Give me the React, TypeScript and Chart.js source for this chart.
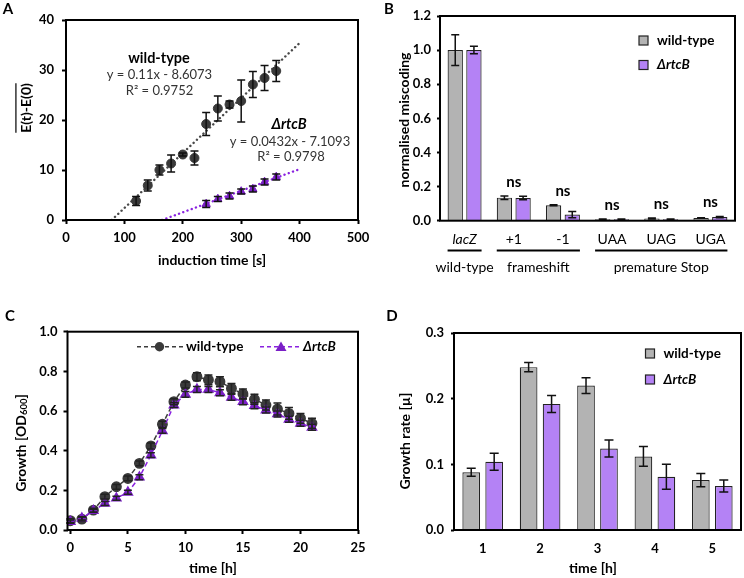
import React, { useEffect, useRef } from "react";
import { Chart, registerables } from "chart.js";

Chart.register(...registerables);

const W = 744;
const H = 578;
const FONT = "Lato, 'Open Sans', sans-serif";

// ---------- Panel A ----------
const aWildTypeTime = [120, 140, 160, 180, 200, 220, 240, 260, 280, 300, 320, 340, 360];
const aWildTypeValue = [3.8, 6.9, 10.0, 11.3, 13.1, 12.4, 19.2, 22.3, 23.1, 23.8, 27.1, 28.4, 29.8];
const aWildTypeError = [0.9, 1.1, 1.0, 1.7, 0.3, 1.4, 2.3, 2.5, 0.7, 4.2, 2.6, 2.5, 2.1];
const aRtcBTime = [240, 260, 280, 300, 320, 340, 360];
const aRtcBValue = [3.2, 4.2, 4.8, 5.7, 6.2, 7.6, 8.6];
const aRtcBError = [0.7, 0.5, 0.6, 0.5, 0.6, 0.6, 0.6];
const aWildTypeFit = [0.11, -8.6073]; // slope, intercept
const aRtcBFit = [0.0432, -7.1093];
const aWildTypeR2 = "0.9752";
const aRtcBR2 = "0.9798";
const aFitEnd = 400;
const aXTicks = [0, 100, 200, 300, 400, 500];
const aYTicks = [0, 10, 20, 30, 40];

// ---------- Panel B ----------
const bCategories = ["lacZ", "+1", "-1", "UAA", "UAG", "UGA"];
const bCategoryItalic = [true, false, false, false, false, false];
const bWildType = [1.0, 0.135, 0.091, 0.008, 0.013, 0.016];
const bWildTypeError = [0.09, 0.01, 0.003, 0.002, 0.003, 0.002];
const bRtcB = [1.0, 0.133, 0.036, 0.008, 0.008, 0.021];
const bRtcBError = [0.022, 0.01, 0.018, 0.002, 0.002, 0.004];
const bSignificance = ["", "ns", "ns", "ns", "ns", "ns"];
const bGroupLabels = ["wild-type", "frameshift", "premature Stop"];
const bGroupStart = [0, 1, 3];
const bGroupEnd = [0, 2, 5];
const bYTicks = [0, 0.2, 0.4, 0.6, 0.8, 1.0, 1.2];

// ---------- Panel C ----------
const cTime = [0, 1, 2, 3, 4, 5, 6, 7, 8, 9, 10, 11, 12, 13, 14, 15, 16, 17, 18, 19, 20, 21];
const cWildType = [0.047, 0.055, 0.1, 0.168, 0.218, 0.26, 0.336, 0.424, 0.533, 0.647, 0.731, 0.773, 0.757, 0.748, 0.714, 0.686, 0.659, 0.63, 0.61, 0.588, 0.563, 0.538];
const cWildTypeError = [0.01, 0.01, 0.01, 0.012, 0.012, 0.012, 0.012, 0.015, 0.015, 0.015, 0.015, 0.02, 0.025, 0.025, 0.025, 0.025, 0.025, 0.025, 0.03, 0.03, 0.025, 0.025];
const cRtcB = [0.042, 0.059, 0.097, 0.134, 0.16, 0.19, 0.266, 0.378, 0.5, 0.63, 0.684, 0.709, 0.709, 0.692, 0.669, 0.647, 0.627, 0.605, 0.585, 0.558, 0.538, 0.518];
const cRtcBError = [0.008, 0.008, 0.008, 0.01, 0.01, 0.01, 0.012, 0.012, 0.012, 0.012, 0.015, 0.015, 0.015, 0.015, 0.015, 0.015, 0.015, 0.015, 0.015, 0.015, 0.015, 0.015];
const cXTicks = [0, 5, 10, 15, 20, 25];
const cYTicks = [0, 0.2, 0.4, 0.6, 0.8, 1.0];

// ---------- Panel D ----------
const dCategories = ["1", "2", "3", "4", "5"];
const dWildType = [0.088, 0.248, 0.22, 0.112, 0.076];
const dWildTypeError = [0.006, 0.007, 0.012, 0.015, 0.01];
const dRtcB = [0.104, 0.192, 0.124, 0.081, 0.067];
const dRtcBError = [0.013, 0.013, 0.013, 0.019, 0.009];
const dYTicks = [0, 0.1, 0.2, 0.3];

// ---------- colours ----------
const GRAY_BAR = "#b3b3b3";
const PURPLE_BAR = "#b482f5";
const DARK = "#3a3a3a";
const PURPLE = "#7a1fc6";

const TICK_SIZE = 13;
const TITLE_SIZE = 14;

Chart.defaults.font.family = FONT;
Chart.defaults.color = "#000";

// ---------- helpers ----------
function txt(ctx: CanvasRenderingContext2D, s: string, x: number, y: number, size: number, weight = "normal", style = "normal", align: CanvasTextAlign = "center", color = "#000") {
  ctx.save();
  ctx.font = `${style} ${weight} ${size}px ${FONT}`;
  ctx.fillStyle = color;
  ctx.textAlign = align;
  ctx.textBaseline = "middle";
  ctx.fillText(s, x, y);
  ctx.restore();
}

type Part = { t: string; size: number; weight?: string; dy?: number };
function vrich(ctx: CanvasRenderingContext2D, parts: Part[], x: number, y: number, overline = false) {
  ctx.save();
  ctx.translate(x, y);
  ctx.rotate(-Math.PI / 2);
  ctx.textBaseline = "middle";
  ctx.textAlign = "left";
  ctx.fillStyle = "#000";
  let total = 0;
  const widths = parts.map((p) => {
    ctx.font = `normal ${p.weight || "bold"} ${p.size}px ${FONT}`;
    const w = ctx.measureText(p.t).width;
    total += w;
    return w;
  });
  let cx = -total / 2;
  parts.forEach((p, i) => {
    ctx.font = `normal ${p.weight || "bold"} ${p.size}px ${FONT}`;
    ctx.fillText(p.t, cx, p.dy || 0);
    cx += widths[i];
  });
  if (overline) {
    ctx.strokeStyle = "#000";
    ctx.lineWidth = 1.2;
    ctx.beginPath();
    ctx.moveTo(-total / 2, -parts[0].size * 0.72);
    ctx.lineTo(total / 2, -parts[0].size * 0.72);
    ctx.stroke();
  }
  ctx.restore();
}

function layoutFor(l: number, t: number, r: number, b: number, yW: number, xH: number) {
  return { padding: { left: l - yW, top: t, right: W - r, bottom: H - b - xH } };
}

const errorBarPlugin = {
  id: "errorBars",
  afterDatasetsDraw(chart: any) {
    const ctx = chart.ctx;
    chart.data.datasets.forEach((ds: any, i: number) => {
      if (!ds.errors) return;
      const meta = chart.getDatasetMeta(i);
      const ys = chart.scales[meta.yAxisID];
      ctx.save();
      ctx.strokeStyle = ds.errorColor || "#000";
      ctx.lineWidth = ds.errorWidth || 1.5;
      const cap = ds.errorCap || 4;
      meta.data.forEach((el: any, j: number) => {
        const raw = ds.data[j];
        const v = typeof raw === "number" ? raw : raw.y;
        const e = ds.errors[j];
        if (!e) return;
        const x = el.x;
        const y1 = ys.getPixelForValue(v + e);
        const y2 = ys.getPixelForValue(v - e);
        ctx.beginPath();
        ctx.moveTo(x, y1);
        ctx.lineTo(x, y2);
        ctx.moveTo(x - cap, y1);
        ctx.lineTo(x + cap, y1);
        ctx.moveTo(x - cap, y2);
        ctx.lineTo(x + cap, y2);
        ctx.stroke();
      });
      ctx.restore();
    });
  },
};

const framePlugin = {
  id: "frame",
  afterDraw(chart: any) {
    const { left, top, right, bottom } = chart.chartArea;
    const ctx = chart.ctx;
    ctx.save();
    ctx.strokeStyle = "#000";
    ctx.lineWidth = 2;
    ctx.strokeRect(left, top, right - left, bottom - top);
    ctx.restore();
  },
};

function yAxis(ticks: number[], decimals: number, yW: number, pad: number, tickLen: number) {
  return {
    type: "linear",
    min: ticks[0],
    max: ticks[ticks.length - 1],
    afterFit: (s: any) => {
      s.width = yW;
    },
    afterBuildTicks: (s: any) => {
      s.ticks = ticks.map((v) => ({ value: v }));
    },
    border: { display: false },
    grid: { drawOnChartArea: false, drawTicks: true, tickLength: tickLen, tickColor: "#000", tickWidth: 2, color: "#000" },
    ticks: {
      font: { size: TICK_SIZE, weight: "bold" },
      color: "#000",
      padding: pad,
      callback: (v: any) => Number(v).toFixed(decimals),
    },
  };
}

function baseOptions(layout: any, scales: any) {
  return {
    responsive: false,
    animation: false,
    events: [],
    layout,
    scales,
    plugins: { legend: { display: false }, tooltip: { enabled: false } },
  };
}

function legendBox(ctx: CanvasRenderingContext2D, x: number, y: number, color: string, label: string, italic: boolean) {
  ctx.save();
  ctx.fillStyle = color;
  ctx.fillRect(x, y - 4.5, 9, 9);
  ctx.strokeStyle = "#222";
  ctx.lineWidth = 1.2;
  ctx.strokeRect(x, y - 4.5, 9, 9);
  ctx.restore();
  txt(ctx, label, x + 18, y, 13.5, "bold", italic ? "italic" : "normal", "left");
}

// ---------- configs ----------
function configA() {
  const [s1, i1] = aWildTypeFit;
  const [s2, i2] = aRtcBFit;
  return {
    type: "scatter",
    data: {
      datasets: [
        {
          type: "line",
          data: [{ x: -i1 / s1, y: 0 }, { x: aFitEnd, y: s1 * aFitEnd + i1 }],
          borderColor: "#4a4a4a",
          borderWidth: 2.4,
          borderDash: [0.1, 4.4],
          borderCapStyle: "round",
          pointRadius: 0,
          fill: false,
          order: 3,
        },
        {
          type: "line",
          data: [{ x: -i2 / s2, y: 0 }, { x: aFitEnd, y: s2 * aFitEnd + i2 }],
          borderColor: "#8a22e0",
          borderWidth: 2.4,
          borderDash: [0.1, 4.4],
          borderCapStyle: "round",
          pointRadius: 0,
          fill: false,
          order: 3,
        },
        {
          label: "wild-type",
          data: aWildTypeTime.map((x, k) => ({ x, y: aWildTypeValue[k] })),
          errors: aWildTypeError,
          errorColor: "#111",
          pointStyle: "circle",
          pointRadius: 4.5,
          backgroundColor: DARK,
          borderColor: DARK,
          order: 1,
        },
        {
          label: "ΔrtcB",
          data: aRtcBTime.map((x, k) => ({ x, y: aRtcBValue[k] })),
          errors: aRtcBError,
          errorColor: "#111",
          pointStyle: "triangle",
          pointRadius: 4.8,
          backgroundColor: PURPLE,
          borderColor: PURPLE,
          order: 1,
        },
      ],
    },
    options: baseOptions(layoutFor(66, 20, 358, 220, 40, 30), {
      x: {
        type: "linear",
        min: aXTicks[0],
        max: aXTicks[aXTicks.length - 1],
        afterFit: (s: any) => {
          s.height = 30;
        },
        afterBuildTicks: (s: any) => {
          s.ticks = aXTicks.map((v) => ({ value: v }));
        },
        border: { display: false },
        grid: { drawOnChartArea: false, drawTicks: true, tickLength: 4, tickColor: "#000", tickWidth: 2, color: "#000" },
        ticks: { font: { size: TICK_SIZE, weight: "bold" }, color: "#000", padding: 6 },
      },
      y: yAxis(aYTicks, 0, 40, 8, 4),
    }),
    plugins: [
      errorBarPlugin,
      framePlugin,
      {
        id: "panelA",
        afterDraw(chart: any) {
          const ctx = chart.ctx;
          txt(ctx, "A", 8, 9, 15, "bold");
          txt(ctx, "induction time [s]", 212, 260, TITLE_SIZE, "bold");
          vrich(ctx, [{ t: "E(t)-E(0)", size: TITLE_SIZE }], 26, 108, true);
          txt(ctx, "wild-type", 159, 58, 14.5, "bold");
          txt(ctx, `y = ${s1}x - ${-i1}`, 159.5, 75, 13, "normal", "normal", "center", "#333");
          txt(ctx, `R² = ${aWildTypeR2}`, 159.5, 90.5, 13, "normal", "normal", "center", "#333");
          txt(ctx, "ΔrtcB", 289, 124, 14.5, "bold", "italic");
          txt(ctx, `y = ${s2}x - ${-i2}`, 290, 141.5, 13, "normal", "normal", "center", "#333");
          txt(ctx, `R² = ${aRtcBR2}`, 291, 157, 13, "normal", "normal", "center", "#333");
        },
      },
    ],
  };
}

function configB() {
  return {
    type: "bar",
    data: {
      labels: bCategories,
      datasets: [
        {
          label: "wild-type",
          data: bWildType,
          errors: bWildTypeError,
          errorColor: "#111",
          backgroundColor: GRAY_BAR,
          borderColor: "#222",
          borderWidth: 1.2,
          categoryPercentage: 0.76,
          barPercentage: 0.82,
        },
        {
          label: "ΔrtcB",
          data: bRtcB,
          errors: bRtcBError,
          errorColor: "#111",
          backgroundColor: PURPLE_BAR,
          borderColor: "#222",
          borderWidth: 1.2,
          categoryPercentage: 0.76,
          barPercentage: 0.82,
        },
      ],
    },
    options: baseOptions(layoutFor(440, 16, 735, 220.7, 40, 30), {
      x: {
        type: "category",
        afterFit: (s: any) => {
          s.height = 30;
        },
        border: { display: false },
        grid: { display: false, drawTicks: false },
        ticks: {
          padding: 10,
          color: "#000",
          font: (c: any) => ({ size: 14, weight: "normal", style: bCategoryItalic[c.index] ? "italic" : "normal" }),
        },
      },
      y: yAxis(bYTicks, 1, 40, 6, 3),
    }),
    plugins: [
      errorBarPlugin,
      framePlugin,
      {
        id: "panelB",
        afterDraw(chart: any) {
          const ctx = chart.ctx;
          const xs = chart.scales.x;
          const ys = chart.scales.y;
          txt(ctx, "B", 389, 9, 15, "bold");
          vrich(ctx, [{ t: "normalised miscoding", size: TITLE_SIZE }], 404, 120);
          bSignificance.forEach((s, k) => {
            if (!s) return;
            const top = Math.max(bWildType[k] + bWildTypeError[k], bRtcB[k] + bRtcBError[k]);
            txt(ctx, s, xs.getPixelForValue(k), ys.getPixelForValue(top) - 14, 15, "bold");
          });
          ctx.save();
          ctx.strokeStyle = "#000";
          ctx.lineWidth = 2;
          bGroupLabels.forEach((g, k) => {
            const x1 = xs.getPixelForValue(bGroupStart[k]) - 17;
            const x2 = xs.getPixelForValue(bGroupEnd[k]) + 17;
            ctx.beginPath();
            ctx.moveTo(x1, 250.5);
            ctx.lineTo(x2, 250.5);
            ctx.stroke();
            txt(ctx, g, (x1 + x2) / 2, 267, 14, "normal");
          });
          ctx.restore();
          legendBox(ctx, 639, 40.5, GRAY_BAR, "wild-type", false);
          legendBox(ctx, 639, 65, PURPLE_BAR, "ΔrtcB", true);
        },
      },
    ],
  };
}

function configC() {
  return {
    type: "line",
    data: {
      datasets: [
        {
          label: "ΔrtcB",
          data: cTime.map((x, k) => ({ x, y: cRtcB[k] })),
          errors: cRtcBError,
          errorColor: "#222",
          borderColor: "#8a22e0",
          borderWidth: 1.5,
          borderDash: [5, 3],
          pointStyle: "triangle",
          pointRadius: 5.2,
          pointBackgroundColor: PURPLE,
          pointBorderColor: PURPLE,
          tension: 0,
        },
        {
          label: "wild-type",
          data: cTime.map((x, k) => ({ x, y: cWildType[k] })),
          errors: cWildTypeError,
          errorColor: "#222",
          borderColor: "#3c3c3c",
          borderWidth: 1.5,
          borderDash: [5, 3],
          pointStyle: "circle",
          pointRadius: 4.7,
          pointBackgroundColor: DARK,
          pointBorderColor: DARK,
          tension: 0,
        },
      ],
    },
    options: baseOptions(layoutFor(67.5, 331.7, 358, 530, 40, 30), {
      x: {
        type: "linear",
        min: -0.25,
        max: cXTicks[cXTicks.length - 1],
        afterFit: (s: any) => {
          s.height = 30;
        },
        afterBuildTicks: (s: any) => {
          s.ticks = cXTicks.map((v) => ({ value: v }));
        },
        border: { display: false },
        grid: { drawOnChartArea: false, drawTicks: true, tickLength: 4, tickColor: "#000", tickWidth: 2, color: "#000" },
        ticks: { font: { size: TICK_SIZE, weight: "bold" }, color: "#000", padding: 6 },
      },
      y: yAxis(cYTicks, 1, 40, 6, 4),
    }),
    plugins: [
      errorBarPlugin,
      framePlugin,
      {
        id: "panelC",
        afterDraw(chart: any) {
          const ctx = chart.ctx;
          txt(ctx, "C", 10, 316, 15, "bold");
          txt(ctx, "time [h]", 213, 568, TITLE_SIZE, "bold");
          vrich(ctx, [{ t: "Growth [OD", size: TITLE_SIZE }, { t: "600", size: 9.5, dy: 3 }, { t: "]", size: TITLE_SIZE }], 21, 443);
          // legend
          ctx.save();
          ctx.lineWidth = 1.5;
          ctx.setLineDash([4, 3]);
          ctx.strokeStyle = "#3c3c3c";
          ctx.beginPath();
          ctx.moveTo(137, 346.7);
          ctx.lineTo(183, 346.7);
          ctx.stroke();
          ctx.strokeStyle = "#8a22e0";
          ctx.beginPath();
          ctx.moveTo(260, 346.7);
          ctx.lineTo(300, 346.7);
          ctx.stroke();
          ctx.setLineDash([]);
          ctx.fillStyle = DARK;
          ctx.beginPath();
          ctx.arc(159.5, 346.7, 4.7, 0, Math.PI * 2);
          ctx.fill();
          ctx.fillStyle = PURPLE;
          ctx.beginPath();
          ctx.moveTo(281, 341.5);
          ctx.lineTo(286.5, 351);
          ctx.lineTo(275.5, 351);
          ctx.closePath();
          ctx.fill();
          ctx.restore();
          txt(ctx, "wild-type", 186, 346.7, 13.5, "bold", "normal", "left");
          txt(ctx, "ΔrtcB", 303, 346.7, 13.5, "bold", "italic", "left");
        },
      },
    ],
  };
}

function configD() {
  return {
    type: "bar",
    data: {
      labels: dCategories,
      datasets: [
        {
          label: "wild-type",
          data: dWildType,
          errors: dWildTypeError,
          errorColor: "#111",
          errorCap: 4.5,
          backgroundColor: GRAY_BAR,
          borderColor: "#222",
          borderWidth: 1.2,
          categoryPercentage: 0.8,
          barPercentage: 0.77,
        },
        {
          label: "ΔrtcB",
          data: dRtcB,
          errors: dRtcBError,
          errorColor: "#111",
          errorCap: 4.5,
          backgroundColor: PURPLE_BAR,
          borderColor: "#222",
          borderWidth: 1.2,
          categoryPercentage: 0.8,
          barPercentage: 0.77,
        },
      ],
    },
    options: baseOptions(layoutFor(454, 333, 741, 530, 40, 30), {
      x: {
        type: "category",
        afterFit: (s: any) => {
          s.height = 30;
        },
        border: { display: false },
        grid: { display: false, drawTicks: false },
        ticks: { padding: 11, color: "#000", font: { size: TICK_SIZE, weight: "bold" } },
      },
      y: yAxis(dYTicks, 1, 40, 7, 3),
    }),
    plugins: [
      errorBarPlugin,
      framePlugin,
      {
        id: "panelD",
        afterDraw(chart: any) {
          const ctx = chart.ctx;
          txt(ctx, "D", 392, 316, 15, "bold");
          txt(ctx, "time [h]", 593, 568, TITLE_SIZE, "bold");
          vrich(ctx, [{ t: "Growth rate [µ]", size: TITLE_SIZE }], 405, 441);
          legendBox(ctx, 645.5, 353.5, GRAY_BAR, "wild-type", false);
          legendBox(ctx, 645.5, 379.5, PURPLE_BAR, "ΔrtcB", true);
        },
      },
    ],
  };
}

function Panel({ make }: { make: () => any }) {
  const ref = useRef<HTMLCanvasElement>(null);
  useEffect(() => {
    const chart = new Chart(ref.current as HTMLCanvasElement, make());
    return () => chart.destroy();
  }, []);
  return (
    <canvas
      ref={ref}
      width={W}
      height={H}
      style={{ position: "absolute", left: 0, top: 0, width: W, height: H }}
    />
  );
}

export default function App() {
  return (
    <div style={{ position: "absolute", left: 0, top: 0, width: W, height: H, background: "#fff", overflow: "hidden" }}>
      <Panel make={configA} />
      <Panel make={configB} />
      <Panel make={configC} />
      <Panel make={configD} />
    </div>
  );
}
